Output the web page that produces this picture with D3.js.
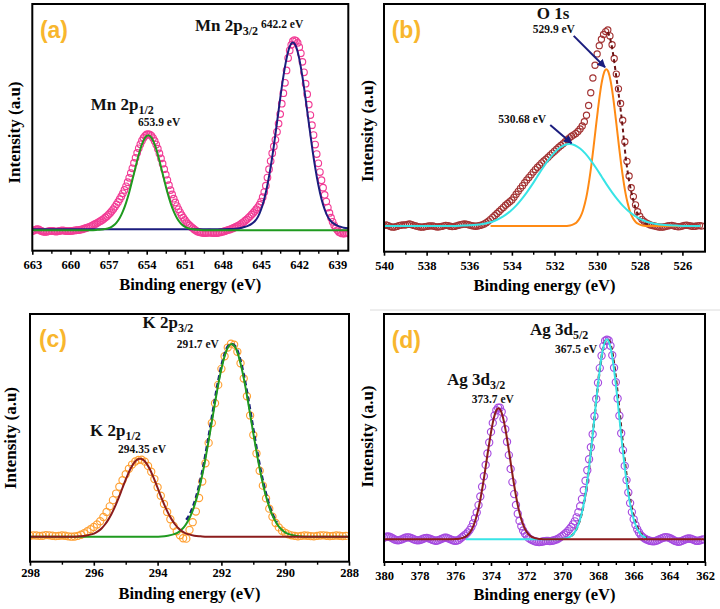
<!DOCTYPE html>
<html><head><meta charset="utf-8">
<script src="https://cdn.jsdelivr.net/npm/d3@7"></script>
<style>body{margin:0;background:#fff}svg{display:block}</style>
</head><body>
<svg id="chart" width="720" height="609"></svg>
<script>
// ---------------- Panel (a) Mn 2p ----------------
const aStart = 663, aStep = 0.125;
const aIntensity = [
-0.5,-0.3,0.2,0.5,0.3,-0.2,-0.6,-0.9,-1.0,-0.9,-0.7,-0.5,-0.4,-0.5,-0.7,-0.8,-0.7,-0.5,-0.3,-0.2,-0.3,-0.5,-0.6,-0.6,-0.5,-0.4,-0.3,-0.2,-0.1,
0,0.1,0.3,0.5,0.8,1.1,1.4,1.7,2.1,2.5,2.9,3.3,3.8,4.3,4.8,5.3,5.9,6.6,7.3,8.1,9,10,11,12.2,13.5,14.8,16.2,17.7,19.3,21.1,23,25.2,27.5,30,32.5,35.3,38,40.6,43,45.1,47,48.5,49.6,50.3,50.5,
50.2,49.6,48.4,46.9,45,42.8,40.3,37.7,34.9,32,29.1,26.3,23.6,21,18.7,16.5,14.5,12.6,10.9,9.3,7.8,6.5,5.3,4.2,3.2,2.4,1.6,1.0,0.3,-0.3,-0.8,
-1.1,-1.3,-1.5,-1.6,-1.6,-1.5,-1.4,-1.4,-1.5,-1.6,-1.7,-1.6,-1.5,-1.3,-1.1,-0.9,
-0.6,-0.3,0,0.2,0.5,0.8,1.2,1.6,2,2.5,3,3.6,4.2,4.9,5.6,6.4,7.2,8.1,9,10,11,12,13.3,15,17.3,20,23.3,27.6,32,36.3,40.4,44,47.5,51.7,56,61,66.5,72,77.5,84,90.5,94.5,97.5,99.4,100,
99.6,98.5,96.2,93,88.5,83,77,71.5,66,60.5,55.2,50,45,40,35.1,30.5,26.2,22.3,18.5,15,11.8,9,6.5,4.3,2.5,1,0,-1,-1.5,
-1.8,-1.9,-1.8,-1.7,-1.8];
const aFit32 = [[663,0.4],[648.5,0.4],[647.5,0.5],[647.0,0.7],[646.5,1.2],[646.25,1.7],[646.0,2.3],[645.75,3.2],[645.5,4.6],[645.25,6.9],[645.0,10.8],[644.75,16.3],[644.5,23.8],[644.25,33.1],[644.0,44.2],[643.75,56.5],[643.5,69.1],[643.25,80.7],[643.0,90.2],[642.75,96.5],[642.5,98.7],[642.25,96.5],[642.0,90.2],[641.75,80.7],[641.5,69.1],[641.25,56.5],[641.0,44.2],[640.75,33.1],[640.5,23.8],[640.25,16.3],[640.0,10.8],[639.75,6.9],[639.5,4.6],[639.25,3.2],[639.0,2.3],[638.75,1.7],[638.5,1.2],[638.14,0.9]];
const aFit12 = [[663,-0.1],[658.375,-0.1],[657.875,0.1],[657.375,0.4],[656.875,1.3],[656.625,2.3],[656.375,3.9],[656.125,6.3],[655.875,9.8],[655.625,14.3],[655.375,19.9],[655.125,26.4],[654.875,33.2],[654.625,39.7],[654.375,45.1],[654.125,48.6],[653.875,49.9],[653.625,48.6],[653.375,45.1],[653.125,39.7],[652.875,33.2],[652.625,26.4],[652.375,19.9],[652.125,14.3],[651.875,9.8],[651.625,6.3],[651.375,3.9],[651.125,2.3],[650.875,1.3],[650.375,0.4],[649.875,0.1],[649.375,-0.1],[638.14,-0.1]];
const aTicks = [663,660,657,654,651,648,645,642,639];

// ---------------- Panel (b) O 1s ----------------
const bStart = 540, bStep = 0.1;
const bIntensity = [
0.3,0.5,0.2,-0.3,-0.6,-0.5,-0.2,0.2,0.4,0.6,0.5,0.8,1.0,0.7,0.3,0,-0.3,-0.5,-0.6,-0.4,
-0.2,0,0.1,0,-0.3,-0.5,-0.4,-0.2,0.1,0.3,0.2,-0.1,-0.3,-0.2,0.1,0.4,0.7,0.9,1.0,0.8,
0.5,0.2,0,-0.1,0,0.3,0.6,1.0,1.7,2.5,3.4,4.4,5.4,6.4,7.4,8.5,9.5,10.6,11.5,12.4,
13.3,14.7,16.2,17.7,19.2,20.6,22.1,23.5,24.8,26.1,27.5,28.8,30,31.1,32.2,33.2,34.1,35.1,36.2,37.2,
38.2,39.2,40.2,41.1,42,43,44,45,45.8,46.5,47.2,48.2,49.5,51,53.2,56.5,61.5,68,75.5,82,
87.8,92,95.3,97.7,99.2,100,97,92.5,85.5,77.5,70,62.5,54,43,33,25.5,19.5,15,10.8,7.3,
5,3.4,2.4,1.6,1,0.5,0.2,0,-0.3,-0.5,-0.6,-0.5,-0.3,0,0.2,0.3,0.1,-0.2,-0.4,-0.3,
0,0.3,0.4,0.2,0,-0.2,-0.1,0.1,0.2,0];
const bFitLattice = [[535,0],[531.57,0],[531.27,0.3],[531.07,1.1],[530.97,1.8],[530.87,3.1],[530.77,5.0],[530.67,7.8],[530.57,11.7],[530.47,16.8],[530.37,23.4],[530.27,31.2],[530.17,40.1],[530.07,49.5],[529.97,58.8],[529.87,67.3],[529.77,74.1],[529.67,78.5],[529.57,80],[529.47,78.5],[529.37,74.1],[529.27,67.3],[529.17,58.8],[529.07,49.5],[528.97,40.1],[528.87,31.2],[528.77,23.4],[528.67,16.8],[528.57,11.7],[528.47,7.8],[528.37,5.0],[528.27,3.1],[528.17,1.8],[528.07,1.1],[527.87,0.3],[527.57,0],[525.15,0]];
const bFitSurface = [[540,0],[536.8,0],[536.3,0.2],[535.8,0.5],[535.3,1.2],[535.05,1.8],[534.8,2.7],[534.55,4.0],[534.3,5.7],[534.05,7.8],[533.8,10.4],[533.55,13.6],[533.3,17.2],[533.05,21.1],[532.8,25.4],[532.55,29.6],[532.3,33.5],[532.05,36.9],[531.8,39.5],[531.55,41.2],[531.3,41.8],[531.05,41.2],[530.8,39.5],[530.55,36.9],[530.3,33.5],[530.05,29.6],[529.8,25.4],[529.55,21.1],[529.3,17.2],[529.05,13.6],[528.8,10.4],[528.55,7.8],[528.3,5.7],[528.05,4.0],[527.8,2.7],[527.55,1.8],[527.3,1.2],[526.8,0.5],[526.3,0.2],[525.8,0],[525.15,0]];
const bEnvelope = [[529.5,99],[529.4,96],[529.3,91],[529.2,84],[529.1,76],[529.0,68],[528.9,59.5],[528.8,50],[528.7,39],[528.6,30],[528.5,23],[528.4,17.5],[528.3,13],[528.2,9],[528.1,6],[528.0,4],[527.8,1.8],[527.5,0.4]];
const bArrows = [[[531.1,97],[529.63,81]],[[532.2,51.5],[531.2,42.2]]];
const bTicks = [540,538,536,534,532,530,528,526];

// ---------------- Panel (c) K 2p ----------------
const cStart = 298, cStep = 0.1;
const cIntensity = [
0.5,0.7,0.6,0.4,0.5,0.8,0.7,0.5,0.3,0.4,0.6,0.5,0.2,0,0.1,0.4,
1.0,1.8,2.8,3.9,5.0,6.3,8.0,10.2,12.8,15.7,18.9,22.3,25.8,29.2,32.3,35.1,37.3,38.9,39.7,
39.8,38.8,36.6,33.6,29.8,25.6,21.2,16.9,12.8,9.0,5.6,2.8,0.7,-0.8,-1.0,
3.5,7.5,13,20,28.5,38,48.5,58.8,69,78.5,86.8,93.3,97.8,
99.8,99.3,95.6,89.7,81.8,72.6,62.7,52.6,43,34.1,26.4,19.8,14.5,10.3,7.1,4.8,3.1,2.0,1.2,0.7,0.4,0.2,
0.4,0.6,0.5,0.3,0.2,0.4,0.6,0.7,0.5,0.3,0.4,0.6,0.5,0.3,0.4];
const cFit32 = [[298,0],[294.08,0],[293.88,0.1],[293.68,0.5],[293.48,1.3],[293.38,2.0],[293.28,3.2],[293.18,4.8],[293.08,7.2],[292.98,10.3],[292.88,14.4],[292.78,19.6],[292.68,26.0],[292.58,33.5],[292.48,42.2],[292.38,51.6],[292.28,61.4],[292.18,71.2],[292.08,80.3],[291.98,88.2],[291.88,94.4],[291.78,98.3],[291.68,99.6],[291.58,98.3],[291.48,94.4],[291.38,88.2],[291.28,80.3],[291.18,71.2],[291.08,61.4],[290.98,51.6],[290.88,42.2],[290.78,33.5],[290.68,26.0],[290.58,19.6],[290.48,14.4],[290.38,10.3],[290.28,7.2],[290.18,4.8],[290.08,3.2],[289.98,2.0],[289.88,1.3],[289.68,0.5],[289.48,0.1],[289.28,0],[288,0]];
const cFit12 = [[298,0],[296.65,0],[296.45,0.2],[296.25,0.5],[296.05,1.3],[295.95,2.0],[295.85,3.0],[295.75,4.4],[295.65,6.3],[295.55,8.7],[295.45,11.6],[295.35,15.0],[295.25,18.9],[295.15,23.1],[295.05,27.5],[294.95,31.5],[294.85,35.1],[294.75,37.9],[294.65,39.7],[294.55,40.3],[294.45,39.7],[294.35,37.9],[294.25,35.1],[294.15,31.5],[294.05,27.5],[293.95,23.1],[293.85,18.9],[293.75,15.0],[293.65,11.6],[293.55,8.7],[293.45,6.3],[293.35,4.4],[293.25,3.0],[293.15,2.0],[293.05,1.3],[292.85,0.5],[292.65,0.2],[292.45,0],[288,0]];
const cEnvelope = [[293.1,8.7],[293.0,11.3],[292.9,15.1],[292.8,20.0],[292.7,26.2],[292.6,33.5],[292.5,42.2],[292.4,51.6],[292.3,61.4],[292.2,71.2],[292.1,80.3],[292.0,88.2],[291.9,94.4],[291.8,98.3],[291.68,99.6],[291.56,98.3],[291.46,94.4],[291.36,88.2],[291.26,80.3],[291.16,71.2],[291.06,61.4],[290.96,51.6],[290.86,42.2],[290.76,33.5],[290.66,26.0],[290.56,19.6],[290.46,14.4],[290.36,10.3],[290.26,7.2]];
const cTicks = [298,296,294,292,290,288];

// ---------------- Panel (d) Ag 3d ----------------
const dStart = 380, dStep = 0.1;
const dIntensity = [
0.8,1.2,1.4,1.3,0.9,0.4,-0.1,-0.4,-0.5,-0.3,0,0.4,0.8,1.0,1.0,0.7,0.3,-0.1,-0.4,-0.5,-0.4,-0.1,0.3,0.6,0.7,0.5,0.2,-0.2,-0.5,-0.7,-0.6,-0.3,0.1,0.5,0.8,0.8,0.5,0.1,-0.3,-0.6,-0.7,-0.6,-0.3,
0.5,1.2,1.9,2.6,3.5,4.6,6.1,8.0,10.5,13.4,17.1,21.4,26.3,31.5,37.2,42.9,48.4,53.7,58.2,61.9,64.5,65.8,
65.8,63.8,60.1,55.0,48.8,42.1,35.2,28.6,22.6,17.2,12.8,9.2,6.5,4.4,2.9,1.9,0.7,0.1,-0.4,
-0.8,-1.1,-1.3,-1.4,-1.3,-1.1,-0.9,-0.8,-0.8,-0.9,-0.8,-0.6,-0.3,0,0.5,1.1,
1.7,2.4,3.2,4.1,5.1,6.2,7.5,9.0,11.0,13.5,16.5,20.2,24.5,29.3,34.5,40.0,46.0,52.5,
61.5,70.2,78.3,85.6,91.8,96.6,99.3,99.8,99.4,96.8,92.0,85.8,78.5,70.4,61.8,53.0,44.6,36.7,29.6,23.4,18.1,13.6,10.0,7.2,5.0,3.4,2.1,1.2,0.5,0,-0.4,
-0.7,-0.9,-1.0,-0.9,-0.6,-0.2,0.2,0.6,0.9,1.1,1.0,0.7,0.3,-0.2,-0.7,-1.0,-1.2,-1.1,-0.8,-0.4,0,0.3,0.4,0.3,0,-0.4,-0.7,-0.8,-0.6,-0.3,0];
const dFit52 = [[375.4,0],[370.3,0],[370.1,0.1],[369.9,0.3],[369.7,0.7],[369.5,1.7],[369.4,2.5],[369.3,3.7],[369.2,5.2],[369.1,7.4],[369.0,10.1],[368.9,13.5],[368.8,17.8],[368.7,23.0],[368.6,29.1],[368.5,36.0],[368.4,43.8],[368.3,52.0],[368.2,60.7],[368.1,69.3],[368.0,77.5],[367.9,84.9],[367.8,91.2],[367.7,96.0],[367.6,99.0],[367.5,100],[367.4,99.0],[367.3,96.0],[367.2,91.2],[367.1,84.9],[367.0,77.5],[366.9,69.3],[366.8,60.7],[366.7,52.0],[366.6,43.8],[366.5,36.0],[366.4,29.1],[366.3,23.0],[366.2,17.8],[366.1,13.5],[366.0,10.1],[365.9,7.4],[365.8,5.2],[365.7,3.7],[365.6,2.5],[365.5,1.7],[365.3,0.7]];
const dFit32 = [[380,0],[376.18,0],[375.98,0.1],[375.78,0.3],[375.58,0.7],[375.38,1.6],[375.28,2.4],[375.18,3.5],[375.08,4.9],[374.98,6.9],[374.88,9.4],[374.78,12.5],[374.68,16.3],[374.58,20.8],[374.48,25.9],[374.38,31.4],[374.28,37.3],[374.18,43.4],[374.08,49.1],[373.98,54.5],[373.88,59.1],[373.78,62.6],[373.68,64.8],[373.58,65.5],[373.48,64.8],[373.38,62.6],[373.28,59.1],[373.18,54.5],[373.08,49.1],[372.98,43.4],[372.88,37.3],[372.78,31.4],[372.68,25.9],[372.58,20.8],[372.48,16.3],[372.38,12.5],[372.28,9.4],[372.18,6.9],[372.08,4.9],[371.98,3.5],[371.88,2.4],[371.78,1.6],[371.58,0.7],[371.38,0.3],[371.18,0.1],[370.98,0],[362,0]];
const dEnvelope = [[369.5,1.7],[369.3,3.7],[369.1,7.4],[368.9,13.5],[368.7,23.0],[368.5,36.0],[368.3,52.0],[368.1,69.3],[367.9,84.9],[367.7,96.0],[367.5,100],[367.36,99.0],[367.26,96.0],[367.16,91.2],[367.06,84.9],[366.96,77.5],[366.86,69.3],[366.76,60.7],[366.66,52.0],[366.56,43.8],[366.46,36.0],[366.36,29.1],[366.26,23.0],[366.16,17.8],[366.06,13.5],[365.96,10.1],[365.86,7.4],[365.76,5.2],[365.66,3.7],[365.56,2.5],[365.46,1.7],[365.26,0.7]];
const dTicks = [380,378,376,374,372,370,368,366,364,362];

// ---------------- drawing ----------------
const NAVY = '#1b1d7e', GREEN = '#1f9a1f', MAROON = '#8b1c1c', CYAN = '#38e4e6', ORANGE = '#ff8a14', DASHRED = '#6e1414';
const SERIF = '"Liberation Serif","Times New Roman",serif';
const svg = d3.select('#chart');
const defs = svg.append('defs');
defs.append('marker').attr('id','arrowHead').attr('viewBox','0 0 10 10').attr('refX',9).attr('refY',5)
  .attr('markerWidth',4.2).attr('markerHeight',4.2).attr('orient','auto')
  .append('path').attr('d','M0,0L10,5L0,10z').attr('fill',NAVY);

// faint separator seen in the source image
svg.append('line').attr('x1',370).attr('x2',720).attr('y1',310).attr('y2',310).attr('stroke','#dcdcdc').attr('stroke-width',1);

const panels = [
 {id:'a', box:[32.3,348.3,4,250.7], xd:[663,638.14], yd:[-10.89,118.95], start:aStart, step:aStep, values:aIntensity,
  ticks:aTicks, pad:5.9, circ:{c:'#f23d96', r:3.3}, xlab:289.8, ylab:[19.5,132.5],
  lines:[{d:aFit32,c:NAVY,w:2},{d:aFit12,c:GREEN,w:2}],
  letter:{t:'(a)',x:662.4,y:101},
  labels:[
   {x:650.2,y:104.9,main:'Mn 2p',sub:'3/2'},
   {x:645.0,y:106.3,ev:'642.2 eV'},
   {x:658.4,y:63.2,main:'Mn 2p',sub:'1/2'},
   {x:654.68,y:54.9,ev:'653.9 eV'}]},
 {id:'b', box:[384,705,4,251.7], xd:[540,524.94], yd:[-13.11,113.27], start:bStart, step:bStep, values:bIntensity,
  ticks:bTicks, pad:5.4, circ:{c:'#a33434', r:3.1}, xlab:290.5, ylab:[372.5,131],
  lines:[{d:bEnvelope,c:DASHRED,w:2,dash:'4,3'},{d:bFitLattice,c:ORANGE,w:2},{d:bFitSurface,c:CYAN,w:2}],
  arrows:bArrows,
  letter:{t:'(b)',x:539.64,y:95.9},
  labels:[
   {x:532.83,y:105.5,main:'O 1s'},
   {x:533.02,y:98.3,ev:'529.9 eV'},
   {x:534.64,y:52.7,ev:'530.68 eV'}]},
 {id:'c', box:[30,349,314,561.7], xd:[298,288], yd:[-12.93,115.15], start:cStart, step:cStep, values:cIntensity,
  ticks:cTicks, pad:2.2, circ:{c:'#ffa033', r:3.6}, xlab:599, ylab:[16.3,438],
  lines:[{d:cEnvelope,c:NAVY,w:2.6,dash:'5,3'},{d:cFit32,c:GREEN,w:2},{d:cFit12,c:MAROON,w:2}],
  letter:{t:'(c)',x:297.72,y:98.2},
  labels:[
   {x:294.47,y:107.8,main:'K 2p',sub:'3/2'},
   {x:293.4,y:97.6,ev:'291.7 eV'},
   {x:296.12,y:52.1,main:'K 2p',sub:'1/2'},
   {x:295.24,y:43.1,ev:'294.35 eV'}]},
 {id:'d', box:[384,705,314,562], xd:[380,362], yd:[-11.35,112.65], start:dStart, step:dStep, values:dIntensity,
  ticks:dTicks, pad:5.6, circ:{c:'#a64be0', r:3.6}, xlab:599.5, ylab:[373,436.5],
  lines:[{d:dEnvelope,c:DASHRED,w:2.4,dash:'4,3'},{d:dFit52,c:CYAN,w:2},{d:dFit32,c:MAROON,w:2}],
  letter:{t:'(d)',x:379.57,y:95.7},
  labels:[
   {x:371.81,y:102.2,main:'Ag 3d',sub:'5/2'},
   {x:370.41,y:93.2,ev:'367.5 eV'},
   {x:376.47,y:77.2,main:'Ag 3d',sub:'3/2'},
   {x:375.08,y:68.2,ev:'373.7 eV'}]}
];

panels.forEach(p => {
  const [L,R,T,B] = p.box;
  const x = d3.scaleLinear().domain(p.xd).range([L,R]);
  const y = d3.scaleLinear().domain(p.yd).range([B,T]);
  const g = svg.append('g').attr('id','panel-'+p.id);
  defs.append('clipPath').attr('id','clip-'+p.id).append('rect')
    .attr('x',L).attr('y',T).attr('width',R-L).attr('height',B-T);
  const plot = g.append('g').attr('clip-path','url(#clip-'+p.id+')');

  const pts = p.values.map((v,i) => [p.start - i*p.step, v]);
  plot.append('g').selectAll('circle').data(pts).join('circle')
    .attr('cx',d=>x(d[0])).attr('cy',d=>y(d[1])).attr('r',p.circ.r)
    .attr('fill','none').attr('stroke',p.circ.c).attr('stroke-width',1.15);

  const line = d3.line().x(d=>x(d[0])).y(d=>y(d[1])).curve(d3.curveMonotoneX);
  p.lines.forEach(l => {
    plot.append('path').datum(l.d).attr('d',line).attr('fill','none')
      .attr('stroke',l.c).attr('stroke-width',l.w)
      .attr('stroke-dasharray',l.dash||null).attr('stroke-linejoin','round');
  });

  if (p.arrows) {
    p.arrows.forEach(a => {
      g.append('line').attr('x1',x(a[0][0])).attr('y1',y(a[0][1]))
        .attr('x2',x(a[1][0])).attr('y2',y(a[1][1]))
        .attr('stroke',NAVY).attr('stroke-width',2).attr('marker-end','url(#arrowHead)');
    });
  }

  // axis
  const ax = g.append('g').attr('transform',`translate(0,${B})`)
    .call(d3.axisBottom(x).tickValues(p.ticks).tickSizeInner(4).tickSizeOuter(0).tickPadding(p.pad).tickFormat(d3.format('d')));
  ax.attr('font-family',SERIF);
  ax.select('.domain').remove();
  ax.selectAll('line').attr('stroke','#000').attr('stroke-width',1.6);
  ax.selectAll('text').attr('font-family',SERIF).attr('font-weight','bold').attr('font-size',12.5).attr('fill','#000');
  const minors = d3.pairs(p.ticks).map(([u,v]) => (u+v)/2);
  const axm = g.append('g').attr('transform',`translate(0,${B})`)
    .call(d3.axisBottom(x).tickValues(minors).tickSizeInner(3).tickSizeOuter(0).tickFormat(''));
  axm.select('.domain').remove();
  axm.selectAll('line').attr('stroke','#000').attr('stroke-width',1.4);

  g.append('rect').attr('x',L).attr('y',T).attr('width',R-L).attr('height',B-T)
    .attr('fill','none').attr('stroke','#000').attr('stroke-width',2);

  g.append('text').attr('x',(L+R)/2).attr('y',p.xlab).attr('text-anchor','middle')
    .attr('font-family',SERIF).attr('font-weight','bold').attr('font-size',16.5).text('Binding energy (eV)');
  g.append('text').attr('transform',`translate(${p.ylab[0]},${p.ylab[1]}) rotate(-90)`).attr('text-anchor','middle')
    .attr('font-family',SERIF).attr('font-weight','bold').attr('font-size',17).text('Intensity (a.u)');

  g.append('text').attr('x',x(p.letter.x)).attr('y',y(p.letter.y))
    .attr('font-family','"Liberation Sans",Arial,sans-serif').attr('font-weight','bold').attr('font-size',23)
    .attr('fill','#f8b62d').text(p.letter.t);

  p.labels.forEach(lb => {
    const t = g.append('text').attr('x',x(lb.x)).attr('y',y(lb.y))
      .attr('font-family',SERIF).attr('font-weight','bold').attr('fill','#111');
    if (lb.ev) { t.attr('font-size',11.5).text(lb.ev); return; }
    t.attr('font-size',17).append('tspan').text(lb.main);
    if (lb.sub) t.append('tspan').attr('font-size',12).attr('dy',4).text(lb.sub);
  });
});
</script>
</body></html>
